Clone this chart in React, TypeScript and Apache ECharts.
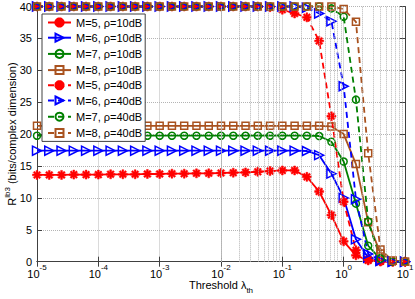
import React, { useEffect, useRef } from 'react';
import * as echarts from 'echarts';

const thresholds = [1e-5, 1.585e-5, 2.512e-5, 3.981e-5, 6.31e-5, 1e-4, 1.585e-4, 2.512e-4, 3.981e-4, 6.31e-4, 1e-3, 1.585e-3, 2.512e-3, 3.981e-3, 6.31e-3, 1e-2, 1.585e-2, 2.512e-2, 3.981e-2, 6.31e-2, 0.1, 0.1585, 0.2512, 0.3981, 0.631, 1, 1.585, 2.512, 3.981, 6.31, 10];

const m5_10 = [13.6, 13.6, 13.6, 13.65, 13.65, 13.65, 13.7, 13.7, 13.7, 13.75, 13.75, 13.8, 13.8, 13.85, 13.85, 13.9, 13.95, 14.0, 14.1, 14.2, 14.3, 14.3, 13.3, 11.0, 7.3, 3.2, 1.0, 0.2, 0.05, 0, 0];
const m6_10 = [17.4, 17.4, 17.4, 17.4, 17.4, 17.4, 17.4, 17.4, 17.4, 17.4, 17.4, 17.4, 17.4, 17.4, 17.4, 17.4, 17.4, 17.4, 17.4, 17.4, 17.4, 17.4, 17.35, 16.7, 13.8, 10.0, 3.5, 0.6, 0.1, 0, 0];
const m7_10 = [19.75, 19.75, 19.75, 19.75, 19.75, 19.75, 19.75, 19.75, 19.75, 19.75, 19.75, 19.75, 19.75, 19.75, 19.75, 19.75, 19.75, 19.75, 19.75, 19.75, 19.75, 19.75, 19.75, 19.7, 18.8, 15.7, 9.1, 2.5, 0.4, 0.05, 0];
const m8_10 = [21.3, 21.3, 21.3, 21.3, 21.3, 21.3, 21.3, 21.3, 21.3, 21.3, 21.3, 21.3, 21.3, 21.3, 21.3, 21.3, 21.3, 21.3, 21.3, 21.3, 21.3, 21.3, 21.3, 21.3, 21.2, 20.0, 15.3, 6.2, 1.3, 0.15, 0];
const m5_40 = [40, 40, 40, 40, 40, 40, 40, 40, 40, 40, 40, 40, 40, 40, 40, 40, 40, 40, 40, 39.9, 39.5, 38.9, 38.3, 34.6, 22.8, 9.4, 1.8, 0.3, 0.05, 0, 0];
const m6_40 = [40, 40, 40, 40, 40, 40, 40, 40, 40, 40, 40, 40, 40, 40, 40, 40, 40, 40, 40, 40, 40, 40, 39.8, 38.9, 37.7, 27.5, 9.8, 1.2, 0.2, 0, 0];
const m7_40 = [40, 40, 40, 40, 40, 40, 40, 40, 40, 40, 40, 40, 40, 40, 40, 40, 40, 40, 40, 40, 40, 40, 40, 40, 39.7, 38.4, 25.4, 6.3, 0.5, 0.05, 0];
const m8_40 = [40, 40, 40, 40, 40, 40, 40, 40, 40, 40, 40, 40, 40, 40, 40, 40, 40, 40, 40, 40, 40, 40, 40, 40, 40, 39.6, 37.6, 17.0, 1.9, 0.15, 0];

const seriesNames = ['M=5, ρ=10dB', 'M=6, ρ=10dB', 'M=7, ρ=10dB', 'M=8, ρ=10dB', 'M=5, ρ=40dB', 'M=6, ρ=40dB', 'M=7, ρ=40dB', 'M=8, ρ=40dB'];
const seriesValues = [m5_10, m6_10, m7_10, m8_10, m5_40, m6_40, m7_40, m8_40];

const minorMantissas = [2, 3, 4, 5, 6, 7, 8, 9];
const decades = [1e-5, 1e-4, 1e-3, 1e-2, 1e-1, 1];

const RED = '#ff0000';
const BLUE = '#0000ff';
const GREEN = '#008000';
const BROWN = '#a9521f';
const FONT = 'Liberation Sans, Arial, sans-serif';
const GRID = '#b4b4b4';

const ASTERISK = 'path://M-1,-5L1,-5L1,5L-1,5Z M-5,-1L5,-1L5,1L-5,1Z M-4.2,-2.8L-2.8,-4.2L4.2,2.8L2.8,4.2Z M2.8,-4.2L4.2,-2.8L-2.8,4.2L-4.2,2.8Z';
const TRIANGLE_R = 'path://M0,0L10,5L0,10Z';

const styles = [
  { color: RED, symbol: ASTERISK, size: 9, hollow: false },
  { color: BLUE, symbol: TRIANGLE_R, size: 9, hollow: true },
  { color: GREEN, symbol: 'circle', size: 7, hollow: true },
  { color: BROWN, symbol: 'rect', size: 7, hollow: true },
];

export default function App() {
  const ref = useRef<HTMLDivElement>(null);
  useEffect(() => {
    if (!ref.current) return;
    const chart = echarts.init(ref.current, null, { renderer: 'svg' });
    const minorLines: any[] = [];
    decades.forEach((d) => minorMantissas.forEach((m) => minorLines.push({ xAxis: d * m })));

    const series: any[] = seriesValues.map((vals, i) => {
      const st = styles[i % 4];
      const dashed = i >= 4;
      return {
        name: seriesNames[i],
        type: 'line',
        data: thresholds.map((t, k) => [t, vals[k]]),
        symbol: st.symbol,
        symbolSize: st.size,
        showAllSymbol: true,
        clip: false,
        z: 3,
        color: st.color,
        lineStyle: { color: st.color, width: 1.8, type: dashed ? [6, 4] : 'solid' },
        itemStyle: st.hollow
          ? { color: 'none', borderColor: st.color, borderWidth: 1.5 }
          : { color: st.color, borderColor: st.color, borderWidth: 0.5 },
      };
    });
    series.push({
      name: 'grid',
      type: 'line',
      data: [],
      silent: true,
      z: 1,
      markLine: {
        silent: true,
        symbol: ['none', 'none'],
        label: { show: false },
        lineStyle: { type: 'dotted', color: GRID, width: 1 },
        data: minorLines,
      },
    });

    const axisLine = { show: true, lineStyle: { color: '#404040', width: 1 } };
    const supRich = {
      n: { fontSize: 11, lineHeight: 16, verticalAlign: 'bottom', fontFamily: FONT, color: '#000' },
      s: { fontSize: 8, lineHeight: 16, verticalAlign: 'top', fontFamily: FONT, color: '#000' },
    };
    const yNameRich = {
      n: { fontSize: 11, lineHeight: 14, verticalAlign: 'bottom', fontFamily: FONT, color: '#000' },
      s: { fontSize: 8, lineHeight: 14, verticalAlign: 'top', fontFamily: FONT, color: '#000' },
    };

    chart.setOption({
      animation: false,
      grid: { left: 37, right: 10, top: 6.5, bottom: 37.3, containLabel: false, outerBoundsMode: 'none' },
      legend: {
        data: seriesNames,
        orient: 'vertical',
        left: 42,
        top: 14,
        backgroundColor: '#fff',
        borderColor: '#404040',
        borderWidth: 1,
        borderRadius: 0,
        padding: [3, 3, 2, 5],
        itemWidth: 23,
        itemHeight: 10,
        itemGap: 3.2,
        textStyle: { fontSize: 11, lineHeight: 11, fontFamily: FONT, color: '#000' },
      },
      xAxis: [
        {
          type: 'log',
          logBase: 10,
          min: 1e-5,
          max: 10,
          position: 'bottom',
          axisLine,
          axisTick: { show: true, inside: true, length: 5, lineStyle: { color: '#404040' } },
          axisLabel: {
            margin: 2,
            formatter: (v: number) => `{n|10}{s|${Math.round(Math.log10(v))}}`,
            rich: supRich,
          },
          splitLine: { show: true, lineStyle: { type: 'dotted', color: GRID } },
          name: '{n|Threshold λ}{b|th}',
          nameLocation: 'middle',
          nameGap: 18,
          nameMoveOverlap: false,
          nameTextStyle: {
            rich: {
              n: { fontSize: 11, lineHeight: 15, verticalAlign: 'top', fontFamily: FONT, color: '#000' },
              b: { fontSize: 8, lineHeight: 15, verticalAlign: 'bottom', fontFamily: FONT, color: '#000' },
            },
          },
        },
        {
          type: 'log',
          logBase: 10,
          min: 1e-5,
          max: 10,
          position: 'top',
          axisLine,
          axisTick: { show: true, inside: true, length: 5, lineStyle: { color: '#404040' } },
          axisLabel: { show: false },
          splitLine: { show: false },
        },
      ],
      yAxis: [
        {
          type: 'value',
          min: 0,
          max: 40,
          interval: 5,
          position: 'left',
          axisLine,
          axisTick: { show: true, inside: true, length: 5, lineStyle: { color: '#404040' } },
          axisLabel: { fontSize: 11, fontFamily: FONT, color: '#000', margin: 5 },
          splitLine: { show: true, lineStyle: { type: 'dotted', color: GRID } },
          name: '{n|R}{s|lb3}{n| (bits/complex dimension)}',
          nameLocation: 'middle',
          nameGap: 20,
          nameRotate: 90,
          nameMoveOverlap: false,
          nameTextStyle: { rich: yNameRich },
        },
        {
          type: 'value',
          min: 0,
          max: 40,
          interval: 5,
          position: 'right',
          axisLine,
          axisTick: { show: true, inside: true, length: 5, lineStyle: { color: '#404040' } },
          axisLabel: { show: false },
          splitLine: { show: false },
        },
      ],
      series,
    });
    return () => chart.dispose();
  }, []);
  return <div ref={ref} style={{ width: 415, height: 299, position: 'fixed', left: 0, top: 0, background: '#fff' }} />;
}
